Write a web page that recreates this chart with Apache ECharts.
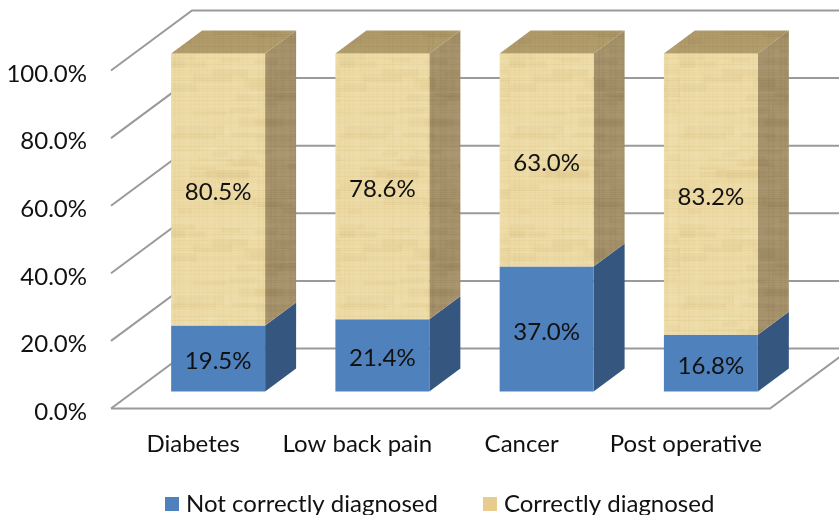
<!DOCTYPE html>
<html><head><meta charset="utf-8">
<style>html,body{margin:0;padding:0;background:#fff}#c{width:839px;height:515px}</style>
<script src="https://cdn.jsdelivr.net/npm/echarts@6/dist/echarts.min.js"></script>
</head><body><div id="c"></div>
<script>
const categories = ['Diabetes', 'Low back pain', 'Cancer', 'Post operative'];
const notCorrect = [19.5, 21.4, 37.0, 16.8];
const correct = [80.5, 78.6, 63.0, 83.2];
const yTicks = [0, 20, 40, 60, 80, 100];

const FONT = 'Lato, "Open Sans", sans-serif';
const SHIFT_X = 25, SHIFT_Y = -17;       // bars sit part-way into the floor
const BAR_DX = 31, BAR_DY = -23;         // bar depth
const WALL_DX = 81, WALL_DY = -60;       // floor depth
const FLOOR_EXTRA = 2;
const BAR_RATIO = 0.572;

function hash(a, b) { const s = Math.sin(a * 12.9898 + b * 78.233) * 43758.5453; return s - Math.floor(s); }
function paper(base, dark, light) {
  const c = document.createElement('canvas'); c.width = 170; c.height = 170;
  const g = c.getContext('2d');
  g.fillStyle = base; g.fillRect(0, 0, 170, 170);
  for (let i = 0; i < 110; i++) {          // soft streaky patches
    const x = hash(i, 1) * 170, y = hash(i, 2) * 170, w = 12 + hash(i, 3) * 40, h = 3 + hash(i, 8) * 7;
    g.fillStyle = i % 2 ? light : dark; g.globalAlpha = 0.10;
    g.fillRect(x - w / 2, y - h / 2, w, h);
  }
  for (let y = 0; y < 170; y += 2) {       // horizontal fibres
    g.fillStyle = hash(y, 4) > 0.5 ? dark : light; g.globalAlpha = 0.03 + hash(y, 5) * 0.11;
    g.fillRect(0, y, 170, 1);
  }
  for (let x = 0; x < 170; x += 4) {       // vertical fibres
    g.fillStyle = hash(x, 6) > 0.5 ? dark : light; g.globalAlpha = 0.02 + hash(x, 7) * 0.07;
    g.fillRect(x, 0, 2, 170);
  }
  return { image: c, repeat: 'repeat' };
}
const paperFront = paper('#eddba6', '#cfae68', '#faf0c6');
const paperSide = paper('#a5916a', '#7f6c40', '#bba985');
const paperTop = paper('#b09b6a', '#90794a', '#c2b07f');

function poly(points, fill) {
  return { type: 'polygon', shape: { points }, style: { fill, stroke: null } };
}
function prism(colors, showTop) {
  return function (params, api) {
    const cat = api.value(0), base = api.value(1), val = api.value(2);
    const w = api.size([1, 0])[0] * BAR_RATIO;
    const cx = api.coord([cat, 0])[0] + SHIFT_X;
    const y0 = api.coord([cat, base])[1] + SHIFT_Y;
    const y1 = api.coord([cat, base + val])[1] + SHIFT_Y;
    const l = cx - w / 2, r = cx + w / 2;
    const children = [
      poly([[r, y1], [r + BAR_DX, y1 + BAR_DY], [r + BAR_DX, y0 + BAR_DY], [r, y0]], colors.side),
      poly([[l, y1], [r, y1], [r, y0], [l, y0]], colors.front)
    ];
    if (showTop) children.push(poly([[l, y1], [l + BAR_DX, y1 + BAR_DY], [r + BAR_DX, y1 + BAR_DY], [r, y1]], colors.top));
    children.push({
      type: 'text', z2: 10,
      style: { text: val.toFixed(1) + '%', x: cx, y: (y0 + y1) / 2 + 3, align: 'center', verticalAlign: 'middle',
               fill: '#111', font: '24px ' + FONT }
    });
    return { type: 'group', children };
  };
}
function wallRender(params, api) {
  const v = api.value(0), sys = params.coordSys;
  const y = api.coord([0, v])[1], x0 = sys.x, x1 = sys.x + sys.width + FLOOR_EXTRA;
  const line = { stroke: '#9a9a9a', lineWidth: 2, fill: null };
  const pts = [[x0, y], [x0 + WALL_DX, y + WALL_DY], [900, y + WALL_DY]];
  const children = [{ type: 'polyline', shape: { points: pts }, style: line }];
  if (v === 0) children.push({ type: 'polyline', shape: { points: [[x0, y], [x1, y], [x1 + WALL_DX, y + WALL_DY]] }, style: line });
  return { type: 'group', children };
}

const chart = echarts.init(document.getElementById('c'), null, { renderer: 'canvas' });
chart.setOption({
  animation: false,
  backgroundColor: '#fff',
  textStyle: { fontFamily: FONT },
  legend: {
    left: 160, top: 487, itemWidth: 14, itemHeight: 14, itemGap: 45, icon: 'rect',
    data: ['Not correctly diagnosed', 'Correctly diagnosed'],
    textStyle: { fontSize: 24, color: '#111', fontFamily: FONT, padding: [0, 0, 0, 2] }
  },
  grid: { left: 111, top: 70.5, width: 657, height: 338, containLabel: false },
  xAxis: {
    type: 'category', data: categories,
    axisLine: { show: false }, axisTick: { show: false },
    axisLabel: { fontSize: 24, color: '#111', margin: 24, fontFamily: FONT, interval: 0 }
  },
  yAxis: {
    type: 'value', min: 0, max: 100, interval: 20,
    splitLine: { show: false }, axisLine: { show: false }, axisTick: { show: false },
    axisLabel: {
      margin: 24, formatter: v => '{t|' + v.toFixed(1) + '%}',
      rich: { t: { fontSize: 24, color: '#111', fontFamily: FONT, padding: [7, 0, 0, 0] } }
    }
  },
  series: [
    { type: 'custom', name: 'walls', silent: true, z: 1, clip: false, renderItem: wallRender,
      coordinateSystem: 'cartesian2d', data: yTicks.map(v => [v]), encode: { y: 0 } },
    { type: 'custom', name: 'Not correctly diagnosed', z: 3, clip: false,
      itemStyle: { color: '#4f81bd' },
      renderItem: prism({ front: '#4f81bd', side: '#35577f' }, false),
      data: notCorrect.map((v, i) => [i, 0, v]), encode: { x: 0, y: 2 } },
    { type: 'custom', name: 'Correctly diagnosed', z: 4, clip: false,
      itemStyle: { color: '#e8cb8e' },
      renderItem: prism({ front: paperFront, side: paperSide, top: paperTop }, true),
      data: correct.map((v, i) => [i, notCorrect[i], v]), encode: { x: 0, y: 2 } }
  ]
});
</script></body></html>
